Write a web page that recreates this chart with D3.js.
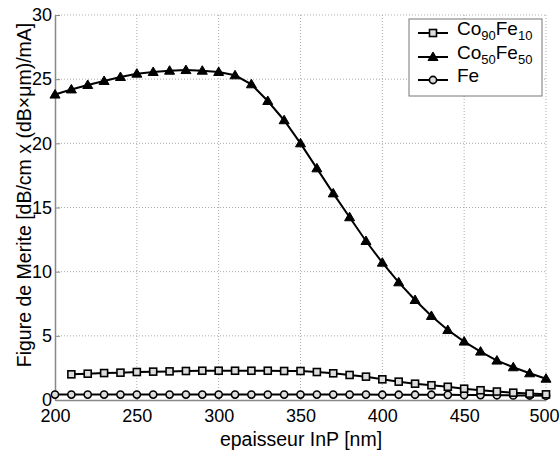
<!DOCTYPE html>
<html><head><meta charset="utf-8">
<script src="https://cdn.jsdelivr.net/npm/d3@7"></script>
<style>body{margin:0;background:#fff}svg{display:block}</style>
</head><body>
<script>
const thickness = d3.range(200, 501, 10);
const coFe5050 = [23.8,24.2,24.55,24.86,25.17,25.43,25.56,25.66,25.71,25.66,25.56,25.3,24.6,23.3,21.8,
  20.0,18.05,16.1,14.24,12.39,10.7,9.17,7.79,6.55,5.45,4.55,3.77,3.07,2.55,2.08,1.66];
const thicknessCo90 = d3.range(210, 501, 10);
const coFe9010 = [2.0,2.05,2.1,2.13,2.18,2.21,2.23,2.26,2.28,2.28,2.28,2.28,2.28,2.26,2.26,2.18,2.08,1.95,1.82,1.61,1.43,
  1.27,1.15,1.03,0.88,0.76,0.66,0.57,0.5,0.44];
const fe = [0.42,0.42,0.42,0.42,0.42,0.42,0.42,0.42,0.42,0.42,0.42,0.42,0.42,0.42,0.42,0.42,0.42,0.42,0.42,0.42,0.41,
  0.41,0.41,0.41,0.4,0.39,0.38,0.37,0.36,0.35,0.34];
const xTicks = [200,250,300,350,400,450,500];
const yTicks = [0,5,10,15,20,25,30];

const W=560,H=452, L=55, R=546, T=15, B=400;
const FONT="'Liberation Sans', Arial, sans-serif";
const svg = d3.select("body").append("svg").attr("width",W).attr("height",H)
  .style("font-family",FONT);
const x = d3.scaleLinear().domain([200,500]).range([L,R]);
const y = d3.scaleLinear().domain([0,30]).range([B,T]);

// grid
svg.append("g").selectAll("line").data(xTicks.slice(1)).join("line")
  .attr("x1",d=>x(d)).attr("x2",d=>x(d)).attr("y1",B).attr("y2",T)
  .attr("stroke","#aaa").attr("stroke-width",1).attr("stroke-dasharray","1,2");
svg.append("g").selectAll("line").data(yTicks.slice(1)).join("line")
  .attr("x1",L).attr("x2",R).attr("y1",d=>y(d)).attr("y2",d=>y(d))
  .attr("stroke","#aaa").attr("stroke-width",1).attr("stroke-dasharray","1,2");

// axes
const xa = svg.append("g").attr("transform",`translate(0,${B})`)
  .call(d3.axisBottom(x).tickValues(xTicks).tickSizeInner(-5).tickSizeOuter(0).tickPadding(9));
const ya = svg.append("g").attr("transform",`translate(${L},0)`)
  .call(d3.axisLeft(y).tickValues(yTicks).tickSizeInner(-5).tickSizeOuter(0).tickPadding(3));
[xa,ya].forEach(a=>{
  a.select(".domain").attr("stroke","#888").attr("stroke-width",1.5);
  a.selectAll(".tick line").attr("stroke","#888");
  a.selectAll("text").attr("font-size",18).attr("fill","#000").style("font-family",FONT);
});
ya.selectAll(".tick").filter(d=>d===0).select("text").attr("dy","0.3em");
xa.selectAll(".tick").filter(d=>d===500).select("text").attr("dx",-2);

// labels
svg.append("text").attr("x",301).attr("y",446).attr("text-anchor","middle")
  .attr("font-size",19.5).text("epaisseur InP [nm]");
svg.append("text").attr("transform",`translate(31,195) rotate(-90)`).attr("text-anchor","middle")
  .attr("font-size",19.5).text("Figure de Merite [dB/cm x (dB×μm)/mA]");

const line = d3.line();
function series(xs, ys, marker){
  const pts = xs.map((d,i)=>[x(d),y(ys[i])]);
  svg.append("path").attr("d",line(pts)).attr("fill","none").attr("stroke","#000").attr("stroke-width",2);
  drawMarkers(svg.append("g"), pts, marker);
}
function drawMarkers(g, pts, marker){
  if(marker==="square"){
    g.selectAll("rect").data(pts).join("rect").attr("x",d=>d[0]-3.5).attr("y",d=>d[1]-3.5)
      .attr("width",7).attr("height",7).attr("fill","#ddd").attr("stroke","#000").attr("stroke-width",1.6);
  } else if(marker==="tri"){
    g.selectAll("path").data(pts).join("path")
      .attr("d",d=>`M${d[0]},${d[1]-5}L${d[0]+5},${d[1]+3.5}L${d[0]-5},${d[1]+3.5}Z`)
      .attr("fill","#000").attr("stroke","#000").attr("stroke-width",1);
  } else {
    g.selectAll("circle").data(pts).join("circle").attr("cx",d=>d[0]).attr("cy",d=>d[1])
      .attr("r",3.6).attr("fill","#ddd").attr("stroke","#000").attr("stroke-width",1.6);
  }
}
series(thickness, fe, "circle");
series(thicknessCo90, coFe9010, "square");
series(thickness, coFe5050, "tri");

// legend
const lg = svg.append("g");
lg.append("rect").attr("x",409).attr("y",19).attr("width",133).attr("height",77)
  .attr("fill","#fff").attr("stroke","#777").attr("stroke-width",1);
const legend = [
  {m:"square", parts:[["Co",0],["90",1],["Fe",0],["10",1]]},
  {m:"tri", parts:[["Co",0],["50",1],["Fe",0],["50",1]]},
  {m:"circle", parts:[["Fe",0]]}
];
const rowsY=[33,57,80];
legend.forEach((d,i)=>{
  const yy=rowsY[i];
  lg.append("line").attr("x1",418).attr("x2",448).attr("y1",yy).attr("y2",yy).attr("stroke","#000").attr("stroke-width",2);
  drawMarkers(lg.append("g"), [[433,yy]], d.m);
  const t = lg.append("text").attr("x",457).attr("y",yy+7).attr("font-size",19);
  d.parts.forEach(p=>{
    if(p[1]) t.append("tspan").attr("font-size",13).attr("dy",5).text(p[0]);
    else t.append("tspan").attr("dy", t.selectAll("tspan").size()? -5:0).text(p[0]);
  });
});
</script>
</body></html>
